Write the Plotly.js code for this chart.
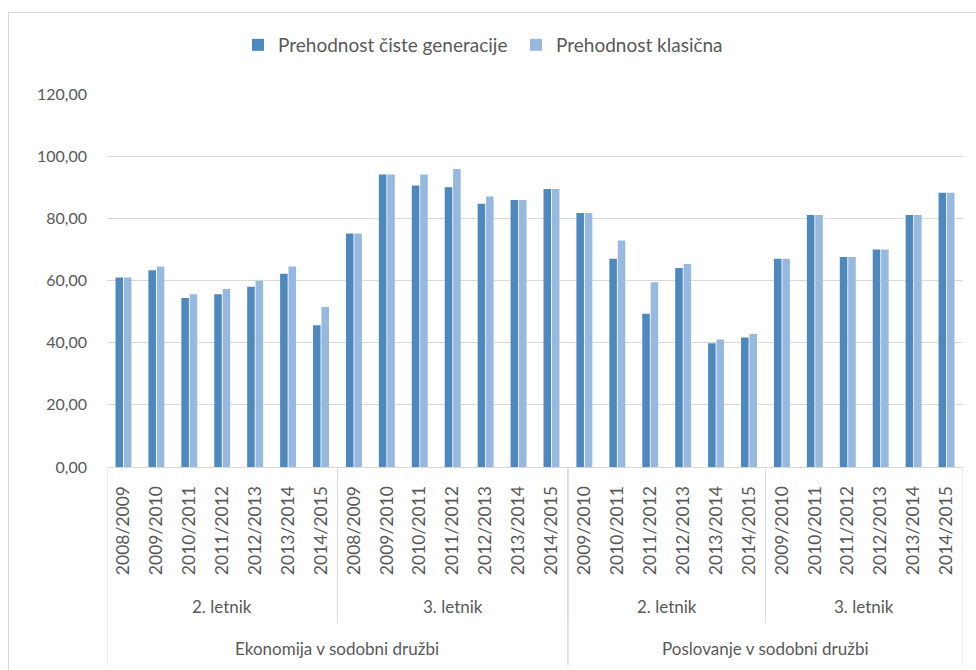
<!DOCTYPE html>
<html>
<head>
<meta charset="utf-8">
<script src="https://cdn.plot.ly/plotly-3.0.1.min.js"></script>
<style>
  html, body { margin: 0; padding: 0; background: #fff; }
  #wrap { position: relative; width: 976px; height: 670px; }
  #chart { position: absolute; left: 0; top: 0; width: 976px; height: 670px; }
  #frame { position: absolute; left: 8px; top: 12px; width: 968px; height: 658px;
           border-top: 1px solid #d9d9d9; border-left: 1px solid #d9d9d9; pointer-events: none; }
</style>
</head>
<body>
<div id="wrap">
  <div id="chart"></div>
  <div id="frame"></div>
</div>
<script>
// ---- data ----
const years = [
  "2008/2009","2009/2010","2010/2011","2011/2012","2012/2013","2013/2014","2014/2015",
  "2008/2009","2009/2010","2010/2011","2011/2012","2012/2013","2013/2014","2014/2015",
  "2009/2010","2010/2011","2011/2012","2012/2013","2013/2014","2014/2015",
  "2009/2010","2010/2011","2011/2012","2012/2013","2013/2014","2014/2015"
];
const letnik = [
  "2. letnik","2. letnik","2. letnik","2. letnik","2. letnik","2. letnik","2. letnik",
  "3. letnik","3. letnik","3. letnik","3. letnik","3. letnik","3. letnik","3. letnik",
  "2. letnik","2. letnik","2. letnik","2. letnik","2. letnik","2. letnik",
  "3. letnik","3. letnik","3. letnik","3. letnik","3. letnik","3. letnik"
];
const program = [
  "Ekonomija v sodobni družbi","Ekonomija v sodobni družbi","Ekonomija v sodobni družbi","Ekonomija v sodobni družbi",
  "Ekonomija v sodobni družbi","Ekonomija v sodobni družbi","Ekonomija v sodobni družbi",
  "Ekonomija v sodobni družbi","Ekonomija v sodobni družbi","Ekonomija v sodobni družbi","Ekonomija v sodobni družbi",
  "Ekonomija v sodobni družbi","Ekonomija v sodobni družbi","Ekonomija v sodobni družbi",
  "Poslovanje v sodobni družbi","Poslovanje v sodobni družbi","Poslovanje v sodobni družbi",
  "Poslovanje v sodobni družbi","Poslovanje v sodobni družbi","Poslovanje v sodobni družbi",
  "Poslovanje v sodobni družbi","Poslovanje v sodobni družbi","Poslovanje v sodobni družbi",
  "Poslovanje v sodobni družbi","Poslovanje v sodobni družbi","Poslovanje v sodobni družbi"
];
const cisteGeneracije = [
  61.0, 63.3, 54.4, 55.6, 58.0, 62.2, 45.6,
  75.1, 94.1, 90.6, 90.0, 84.7, 85.9, 89.4,
  81.7, 67.0, 49.3, 64.0, 39.8, 41.7,
  67.0, 81.1, 67.6, 70.0, 81.1, 88.2
];
const klasicna = [
  61.0, 64.5, 55.6, 57.3, 59.9, 64.5, 51.5,
  75.1, 94.1, 94.1, 95.9, 87.0, 85.9, 89.4,
  81.7, 72.9, 59.4, 65.3, 41.0, 42.8,
  67.0, 81.1, 67.6, 70.0, 81.1, 88.2
];
const seriesNames = ["Prehodnost čiste generacije", "Prehodnost klasična"];
const yTicks = [0, 20, 40, 60, 80, 100, 120];

// ---- layout constants ----
const W = 976, H = 670;
const M = { l: 107, r: 13, t: 94, b: 203 };
const plotH = H - M.t - M.b;
const pyPaper = (px) => (M.t + plotH - px) / plotH; // px measured from top of page
const FONT = "Lato, 'Open Sans', sans-serif";
const TXT = "#595959";
const LINE = "#d9d9d9";

const cats = years.map((y, i) => program[i] + "|" + letnik[i] + "|" + y);

const traces = [
  { type: "bar", name: seriesNames[0], x: cats, y: cisteGeneracije,
    marker: { color: "#4f88bd" } },
  { type: "bar", name: seriesNames[1], x: cats, y: klasicna,
    marker: { color: "#97b9e0" } }
];

// group runs
function runs(keyFn) {
  const out = [];
  let start = 0;
  for (let i = 1; i <= cats.length; i++) {
    if (i === cats.length || keyFn(i) !== keyFn(start)) {
      out.push({ start, end: i - 1, label: keyFn(start) });
      start = i;
    }
  }
  return out;
}
const letnikRuns = runs(i => program[i] + "|" + letnik[i]);
const programRuns = runs(i => program[i]);

const shapes = [];
const annotations = [];
const letnikLineEnd = pyPaper(623);
const programLineEnd = pyPaper(665);
const letnikLabelY = pyPaper(606);
const programLabelY = pyPaper(648);

letnikRuns.forEach(r => {
  annotations.push({ xref: "x", yref: "paper", x: (r.start + r.end) / 2, y: letnikLabelY,
    text: r.label.split("|")[1], showarrow: false, xanchor: "center", yanchor: "middle",
    font: { family: FONT, size: 17, color: TXT } });
  if (r.start > 0) {
    shapes.push({ type: "line", xref: "x", yref: "paper", x0: r.start - 0.5, x1: r.start - 0.5,
      y0: 0, y1: letnikLineEnd, line: { color: LINE, width: 1 } });
  }
});
programRuns.forEach(r => {
  annotations.push({ xref: "x", yref: "paper", x: (r.start + r.end) / 2, y: programLabelY,
    text: r.label, showarrow: false, xanchor: "center", yanchor: "middle",
    font: { family: FONT, size: 17, color: TXT } });
  shapes.push({ type: "line", xref: "x", yref: "paper", x0: r.start - 0.5, x1: r.start - 0.5,
    y0: 0, y1: programLineEnd, line: { color: LINE, width: 1 } });
  shapes.push({ type: "line", xref: "x", yref: "paper", x0: r.end + 0.5, x1: r.end + 0.5,
    y0: 0, y1: programLineEnd, line: { color: LINE, width: 1 } });
});

const layout = {
  width: W, height: H,
  margin: M,
  paper_bgcolor: "#ffffff",
  plot_bgcolor: "#ffffff",
  separators: ", ",
  barmode: "group",
  bargap: 0.49,
  bargroupgap: 0.1,
  font: { family: FONT, size: 16, color: TXT },
  showlegend: true,
  legend: {
    orientation: "h",
    xref: "container", yref: "container",
    x: 238 / W, xanchor: "left",
    y: 1 - 45 / H, yanchor: "middle",
    font: { family: FONT, size: 19, color: TXT },
    itemwidth: 30,
    entrywidth: 233,
    traceorder: "normal"
  },
  xaxis: {
    type: "category",
    tickmode: "array",
    tickvals: cats,
    ticktext: years,
    tickangle: -90,
    ticks: "",
    showgrid: false,
    showline: true,
    linecolor: LINE,
    linewidth: 1,
    zeroline: false,
    ticklabelstandoff: 11,
    tickfont: { family: FONT, size: 17.5, color: TXT },
    range: [-0.5, cats.length - 0.5],
    fixedrange: true
  },
  yaxis: {
    range: [0, 120],
    tickmode: "array",
    tickvals: yTicks,
    tickformat: ".2f",
    showgrid: true,
    gridcolor: LINE,
    gridwidth: 1,
    zeroline: false,
    showline: false,
    ticks: "",
    ticklabelstandoff: 19,
    tickfont: { family: FONT, size: 16, color: TXT },
    fixedrange: true
  },
  shapes: shapes,
  annotations: annotations
};

Plotly.newPlot("chart", traces, layout, { staticPlot: true, displayModeBar: false });
</script>
</body>
</html>
